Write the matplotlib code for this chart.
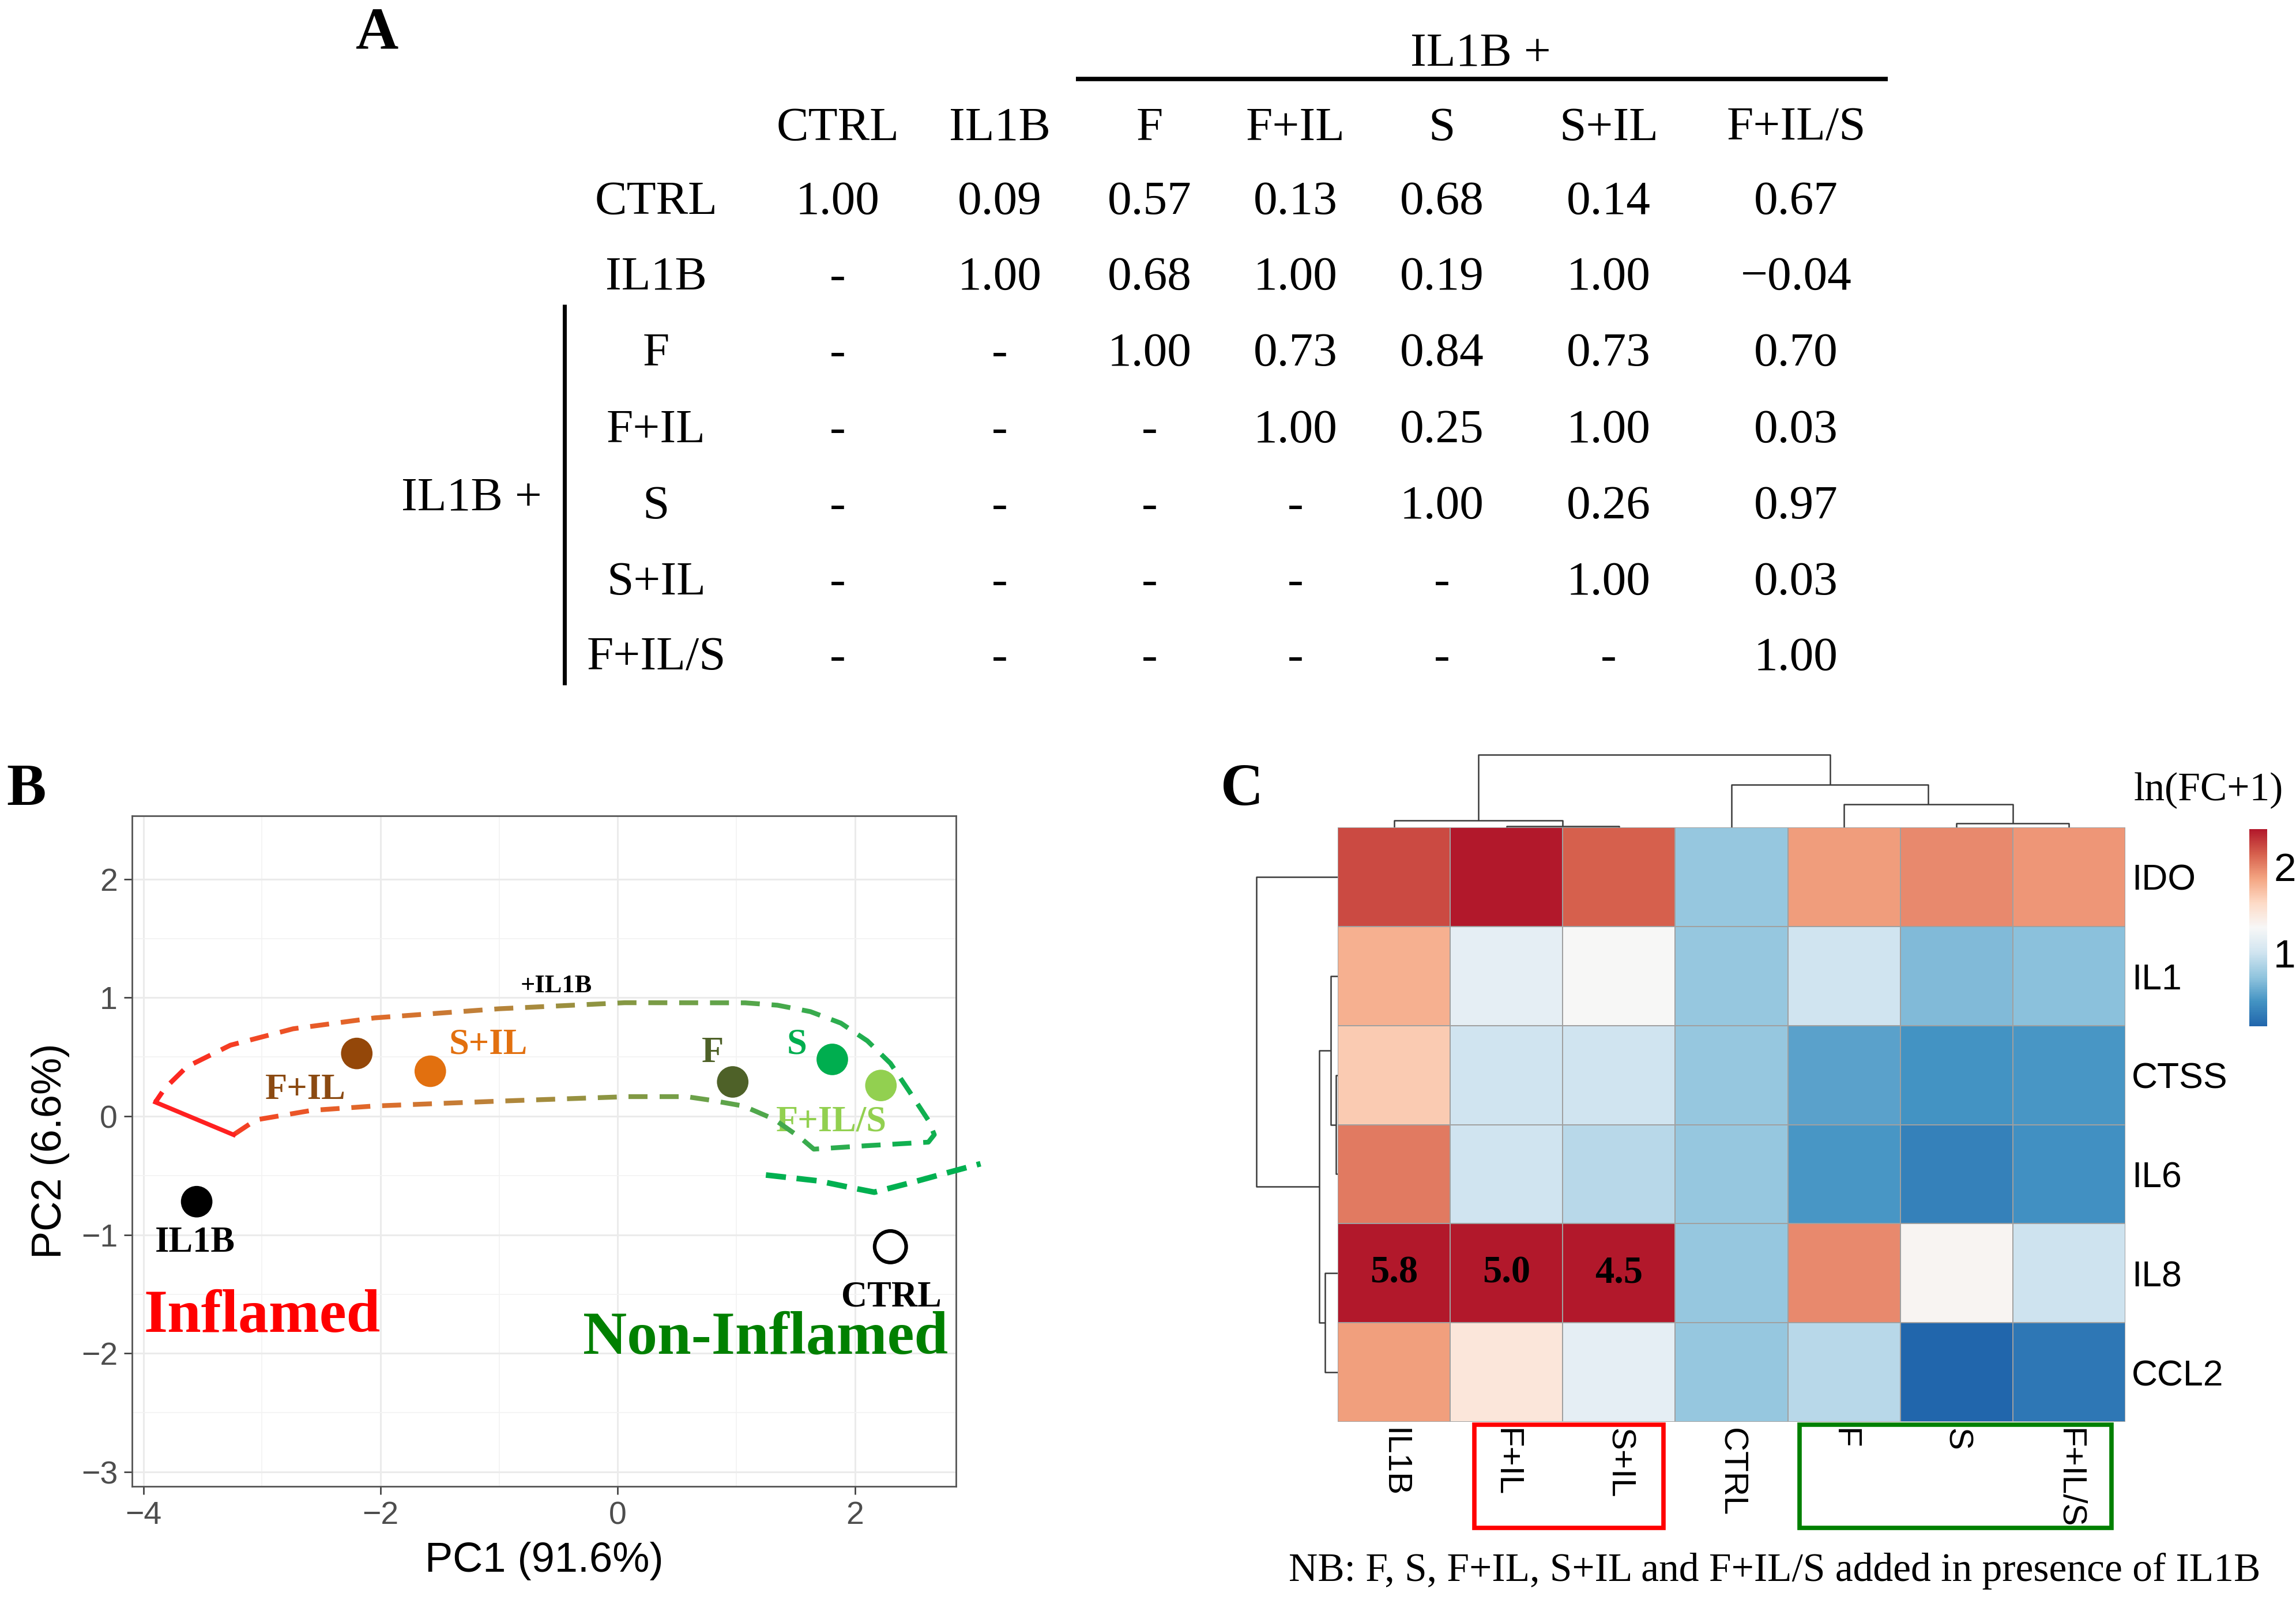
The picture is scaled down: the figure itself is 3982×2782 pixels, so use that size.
import numpy as np
import matplotlib
matplotlib.use("Agg")
import matplotlib.pyplot as plt
from matplotlib.colors import LinearSegmentedColormap, Normalize
from matplotlib.collections import LineCollection
from matplotlib.patches import Rectangle

W, H = 3982, 2782
plt.rcParams['font.family'] = ['Liberation Sans', 'DejaVu Sans']
SERIF = ['Liberation Serif', 'DejaVu Serif']

# ---------------- data: panel A (correlation table)
groups = ["CTRL", "IL1B", "F", "F+IL", "S", "S+IL", "F+IL/S"]
corr = [
    [1.00, 0.09, 0.57, 0.13, 0.68, 0.14, 0.67],
    [None, 1.00, 0.68, 1.00, 0.19, 1.00, -0.04],
    [None, None, 1.00, 0.73, 0.84, 0.73, 0.70],
    [None, None, None, 1.00, 0.25, 1.00, 0.03],
    [None, None, None, None, 1.00, 0.26, 0.97],
    [None, None, None, None, None, 1.00, 0.03],
    [None, None, None, None, None, None, 1.00],
]

# ---------------- data: panel B (PCA)
samples = ["IL1B", "F+IL", "S+IL", "F", "S", "F+IL/S", "CTRL"]
pc1 = [-3.55, -2.20, -1.58, 0.97, 1.81, 2.22, 2.30]
pc2 = [-0.72, 0.53, 0.38, 0.29, 0.48, 0.26, -1.10]

# hand drawn "+IL1B" outline
lasso_x = [-3.24, -3.05, -2.58, -2.05, -1.0, 0.06, 0.585, 0.783, 1.06, 1.318, 1.54, 1.654,
           2.096, 2.62, 2.67, 2.62, 2.46, 2.30, 2.106, 1.882, 1.625, 1.347, 1.075, 0.058,
           -1.0, -2.05, -2.737, -3.265, -3.634, -3.82, -3.898]
lasso_y = [-0.156, -0.03, 0.05, 0.087, 0.128, 0.165, 0.165, 0.136, 0.087, -0.024, -0.18, -0.277,
           -0.248, -0.218, -0.155, -0.034, 0.209, 0.447, 0.636, 0.786, 0.883, 0.937, 0.957, 0.958,
           0.907, 0.83, 0.738, 0.60, 0.417, 0.234, 0.119]
tail_x = [1.25, 1.688, 1.96, 2.164, 2.51, 2.78, 3.06]
tail_y = [-0.495, -0.544, -0.60, -0.64, -0.55, -0.476, -0.40]
close_x = [-3.898, -3.239]
close_y = [0.119, -0.156]

# ---------------- data: panel C (heatmap, ln(FC+1))
genes = ["IDO", "IL1", "CTSS", "IL6", "IL8", "CCL2"]
conds = ["IL1B", "F+IL", "S+IL", "CTRL", "F", "S", "F+IL/S"]
lnfc = [
    [2.23, 2.60, 2.14, 0.74, 1.89, 1.97, 1.92],
    [1.80, 1.15, 1.29, 0.74, 1.00, 0.66, 0.70],
    [1.66, 1.00, 1.00, 0.74, 0.52, 0.44, 0.46],
    [2.03, 1.00, 0.89, 0.74, 0.46, 0.32, 0.42],
    [5.80, 5.00, 4.50, 0.74, 1.97, 1.32, 0.99],
    [1.88, 1.46, 1.15, 0.74, 0.89, 0.15, 0.26],
]
# dendrogram merges: (left, right, height)
col_merges = [(1, 2, 2), (5, 6, 7), (0, 7, 12), (4, 8, 40), (3, 10, 74), (9, 11, 126)]
row_merges = [(2, 3, 3), (1, 6, 12), (4, 5, 22), (7, 8, 32), (0, 9, 141)]

# ---------------- styles / layout
pt_colors = ["#000000", "#944709", "#E2700F", "#4E6128", "#00AE4F", "#92D050", "white"]
lab_colors = ["#000000", "#8B4A12", "#E2700F", "#4E6128", "#00AE4F", "#92D050", "#000000"]
lab_dx = [-0.015, -0.43, 0.49, -0.17, -0.30, -0.42, 0.01]
lab_dy = [-0.35, -0.31, 0.22, 0.24, 0.12, -0.31, -0.43]

fig = plt.figure(figsize=(W / 100, H / 100), dpi=100)

# overlay in pixel space for panel A and panel letters
ov = fig.add_axes([0, 0, 1, 1])
ov.set_xlim(0, W)
ov.set_ylim(H, 0)
ov.axis('off')

for letter, (lx, ly) in zip("ABC", [(654, 60), (46, 1371), (2154, 1371)]):
    ov.text(lx, ly, letter, family=SERIF, weight='bold', fontsize=74, ha='center', va='center')

col_x = [1453, 1734, 1994, 2247, 2501, 2790, 3115]
row_label_x = 1138
head_y = 223
row_y = [351, 482, 614, 747, 879, 1011, 1142]
TFS = 60
for j, g in enumerate(groups):
    ov.text(col_x[j], head_y, g, family=SERIF, fontsize=TFS, ha='center', va='center')
for i, g in enumerate(groups):
    ov.text(row_label_x, row_y[i], g, family=SERIF, fontsize=TFS, ha='center', va='center')
    for j in range(len(groups)):
        v = corr[i][j]
        s = "-" if v is None else f"{v:.2f}".replace("-", "\u2212")
        ov.text(col_x[j], row_y[i], s, family=SERIF, fontsize=TFS, ha='center', va='center')
ov.text(2568, 94, "IL1B +", family=SERIF, fontsize=TFS, ha='center', va='center')
ov.plot([1866, 3274], [137, 137], color='black', lw=5.5, solid_capstyle='butt')
ov.text(818, 865, "IL1B +", family=SERIF, fontsize=TFS, ha='center', va='center')
ov.plot([979, 979], [528, 1188], color='black', lw=5, solid_capstyle='butt')

# ---------------- panel B
axb = fig.add_axes([229 / W, 1 - 2578 / H, 1429 / W, 1163 / H])
axb.set_xlim(-4.095, 2.853)
axb.set_ylim(-3.121, 2.534)
axb.set_xticks([-4, -2, 0, 2])
axb.set_yticks([-3, -2, -1, 0, 1, 2])
axb.set_xticks([-3, -1, 1], minor=True)
axb.set_yticks([-2.5, -1.5, -0.5, 0.5, 1.5], minor=True)
axb.grid(True, which='major', color='#EBEBEB', lw=2.2)
axb.grid(True, which='minor', color='#F3F3F3', lw=1.3)
axb.set_axisbelow(True)
axb.tick_params(which='major', length=10, width=1.8, color='#333333', labelsize=40,
                labelcolor='#4D4D4D', pad=8)
axb.tick_params(which='minor', length=0)
for sp in axb.spines.values():
    sp.set_color('#555555')
    sp.set_linewidth(2)
axb.set_xlabel("PC1 (91.6%)", fontsize=52, labelpad=14)
axb.set_ylabel("PC2 (6.6%)", fontsize=52, labelpad=14)

for k, name in enumerate(samples):
    axb.text(pc1[k] + lab_dx[k], pc2[k] + lab_dy[k], name, family=SERIF, weight='bold',
             fontsize=45, color=lab_colors[k], ha='center', va='center', zorder=3)
axb.scatter(pc1, pc2, s=1550, c=pt_colors, edgecolors=['none'] * 6 + ['black'],
            linewidths=[0] * 6 + [4.5], zorder=4)


def dash_pieces(xs, ys, on=0.16, off=0.10):
    pts = np.column_stack([xs, ys])
    s = np.concatenate([[0], np.cumsum(np.hypot(*np.diff(pts, axis=0).T))])
    out = []
    start = 0.0
    while start < s[-1]:
        end = min(start + on, s[-1])
        ss = np.concatenate([[start], s[(s > start) & (s < end)], [end]])
        out.append(np.column_stack([np.interp(ss, s, pts[:, 0]), np.interp(ss, s, pts[:, 1])]))
        start = end + off
    return out


lasso_cmap = LinearSegmentedColormap.from_list(
    'lasso', ['#FF2020', '#F04A25', '#E06A2A', '#C08038', '#949240', '#70A048', '#40AA4C',
              '#10B050'])
lnorm = Normalize(-3.9, 2.4)
pieces = dash_pieces(lasso_x, lasso_y)
lc = LineCollection(pieces, colors=[lasso_cmap(lnorm(p[:, 0].mean())) for p in pieces],
                    linewidths=6, capstyle='butt', zorder=5)
axb.add_collection(lc)
tail = dash_pieces(tail_x, tail_y, on=0.17, off=0.09)
axb.add_collection(LineCollection(tail, colors='#00B050', linewidths=7, capstyle='butt',
                                  zorder=5, clip_on=False))
axb.plot(close_x, close_y, color='#FF2020', lw=5.5, zorder=5)

axb.text(-0.52, 1.10, "+IL1B", family=SERIF, weight='bold', fontsize=32, ha='center',
         va='center')
axb.text(-3.0, -1.69, "Inflamed", family=SERIF, weight='bold', fontsize=76, color='#FF0000',
         ha='center', va='center')
axb.text(1.245, -1.875, "Non-Inflamed", family=SERIF, weight='bold', fontsize=76,
         color='#008000', ha='center', va='center', clip_on=False)

# ---------------- panel C
hm_l, hm_r, hm_t, hm_b = 2320, 3686, 1435, 2466
axc = fig.add_axes([hm_l / W, 1 - hm_b / H, (hm_r - hm_l) / W, (hm_b - hm_t) / H])
cmap = LinearSegmentedColormap.from_list(
    'rdbu', ['#2166ac', '#4393c3', '#92c5de', '#d1e5f0', '#f7f7f7', '#fddbc7', '#f4a582',
             '#d6604d', '#b2182b'])
norm = Normalize(0.15, 2.43)
vals = np.array(lnfc)
mesh = axc.pcolormesh(vals, cmap=cmap, norm=norm, edgecolors='#A0A0A0', linewidth=1.3)
axc.set_xlim(0, len(conds))
axc.set_ylim(len(genes), 0)
for sp in axc.spines.values():
    sp.set_visible(False)
axc.set_xticks(np.arange(len(conds)) + 0.5)
axc.set_xticklabels(conds, rotation=270, fontsize=42, va='top', ha='center')
axc.set_yticks(np.arange(len(genes)) + 0.5)
axc.set_yticklabels(genes, fontsize=45)
axc.yaxis.tick_right()
axc.tick_params(length=0, pad=8)
for i in range(len(genes)):
    for j in range(len(conds)):
        if vals[i, j] > 4:
            axc.text(j + 0.5, i + 0.5, f"{vals[i, j]:.1f}", family=SERIF, weight='bold',
                     fontsize=48, ha='center', va='center')

# boxes around the label groups
axc.add_patch(Rectangle((1.215, 6.03), 2.896 - 1.215, 1.04, fill=False, ec='#FF0000', lw=5.5,
                        clip_on=False))
axc.add_patch(Rectangle((4.106, 6.03), 6.878 - 4.106, 1.04, fill=False, ec='#008000', lw=5.5,
                        clip_on=False))


def draw_dendro(ax, merges, n, side):
    pos = {i: i + 0.5 for i in range(n)}
    hgt = {i: 0.0 for i in range(n)}
    k = n
    for a, b, h in merges:
        xs = [pos[a], pos[a], pos[b], pos[b]]
        ys = [hgt[a], h, h, hgt[b]]
        if side == 'top':
            ax.plot(xs, ys, color='#3A3A3A', lw=1.8, solid_capstyle='butt')
        else:
            ax.plot(ys, xs, color='#3A3A3A', lw=1.8, solid_capstyle='butt')
        pos[k] = (pos[a] + pos[b]) / 2
        hgt[k] = h
        k += 1


axd = fig.add_axes([hm_l / W, 1 - hm_t / H, (hm_r - hm_l) / W, 128 / H])
draw_dendro(axd, col_merges, len(conds), 'top')
axd.set_xlim(0, len(conds))
axd.set_ylim(0, 128)
axd.axis('off')

axr = fig.add_axes([(hm_l - 143) / W, 1 - hm_b / H, 143 / W, (hm_b - hm_t) / H])
draw_dendro(axr, row_merges, len(genes), 'left')
axr.set_xlim(143, 0)
axr.set_ylim(len(genes), 0)
axr.axis('off')

cax = fig.add_axes([3901 / W, 1 - 1780 / H, 31 / W, 342 / H])
cb = fig.colorbar(mesh, cax=cax, ticks=[1, 2])
cb.outline.set_visible(False)
cax.tick_params(length=0, labelsize=50, pad=8)
ov.text(3830, 1371, "ln(FC+1)", family=SERIF, fontsize=50, ha='center', va='center')

ov.text(3078, 2725, "NB: F, S, F+IL, S+IL and F+IL/S added in presence of IL1B", family=SERIF,
        fontsize=50, ha='center', va='center')

fig.savefig("out.png", dpi=100)
